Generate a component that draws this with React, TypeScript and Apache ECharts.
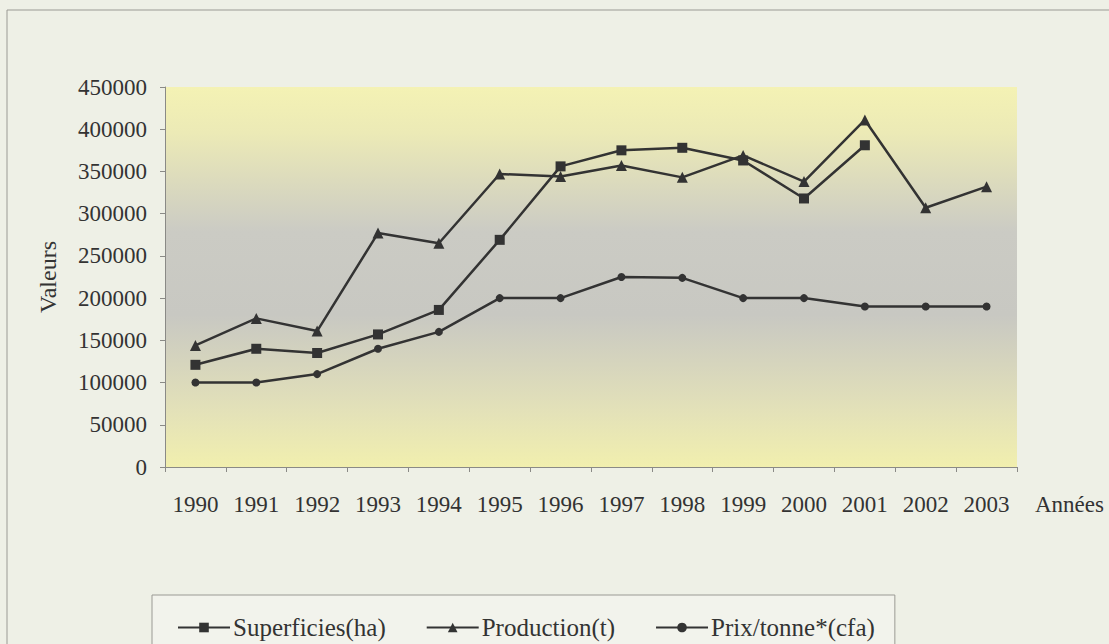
import React, { useEffect, useRef } from "react";
import * as echarts from "echarts";

const years = ["1990", "1991", "1992", "1993", "1994", "1995", "1996", "1997", "1998", "1999", "2000", "2001", "2002", "2003"];
const superficies = [121000, 140000, 135000, 157000, 186000, 269000, 356000, 375000, 378000, 363000, 318000, 381000, null, null];
const production = [144000, 176000, 161000, 277000, 265000, 347000, 344000, 357000, 343000, 369000, 338000, 411000, 307000, 332000];
const prix = [100000, 100000, 110000, 140000, 160000, 200000, 200000, 225000, 224000, 200000, 200000, 190000, 190000, 190000];

const FONT = "Liberation Serif";
const INK = "#333333";

export default function App() {
  const ref = useRef<HTMLDivElement>(null);
  useEffect(() => {
    if (!ref.current) return;
    const chart = echarts.init(ref.current, null, { renderer: "svg" });
    const lineSeries = (name: string, data: (number | null)[], symbol: string, size: number) => ({
      name,
      type: "line",
      data,
      symbol,
      symbolSize: size,
      showAllSymbol: true,
      lineStyle: { color: INK, width: 2.5 },
      itemStyle: { color: INK, borderWidth: 0 },
      connectNulls: false,
    });
    chart.setOption({
      animation: false,
      backgroundColor: "#eef0e6",
      textStyle: { fontFamily: FONT },
      graphic: [
        {
          type: "rect",
          shape: { x: 7, y: 10, width: 1200, height: 700 },
          style: { fill: "none", stroke: "#9a9a94", lineWidth: 1 },
          silent: true,
        },
      ],
      grid: {
        left: 165,
        right: 92,
        top: 87,
        bottom: 177,
        show: true,
        borderWidth: 0,
        backgroundColor: {
          type: "linear",
          x: 0,
          y: 0,
          x2: 0,
          y2: 1,
          colorStops: [
            { offset: 0, color: "#f4f2b4" },
            { offset: 0.12, color: "#eceab6" },
            { offset: 0.38, color: "#cbcbc4" },
            { offset: 0.6, color: "#c8c8c2" },
            { offset: 0.86, color: "#e4e2b8" },
            { offset: 1, color: "#f1efae" },
          ],
        },
      },
      legend: {
        left: 152,
        top: 595,
        width: 751,
        padding: [20, 20, 40, 25],
        borderColor: "#9a9a94",
        borderWidth: 1,
        backgroundColor: "#f2f3ec",
        itemWidth: 52,
        itemHeight: 12,
        itemGap: 40,
        textStyle: { fontFamily: FONT, fontSize: 25, color: INK, padding: [0, 0, 0, -2] },
        data: ["Superficies(ha)", "Production(t)", "Prix/tonne*(cfa)"],
      },
      xAxis: {
        type: "category",
        data: years,
        boundaryGap: true,
        name: "Années",
        nameLocation: "end",
        nameGap: 18,
        nameTextStyle: { fontFamily: FONT, fontSize: 23, color: INK, verticalAlign: "top", padding: [26, 0, 0, 0] },
        axisLine: { lineStyle: { color: "#8a8a86", width: 1 } },
        axisTick: { show: true, alignWithLabel: false, length: 5, lineStyle: { color: "#8a8a86" } },
        axisLabel: { fontFamily: FONT, fontSize: 23, color: INK, margin: 26, interval: 0 },
        splitLine: { show: false },
      },
      yAxis: {
        type: "value",
        min: 0,
        max: 450000,
        interval: 50000,
        name: "Valeurs",
        nameLocation: "middle",
        nameGap: 105,
        nameRotate: 90,
        nameTextStyle: { fontFamily: FONT, fontSize: 24, color: INK },
        axisLine: { show: true, lineStyle: { color: "#8a8a86", width: 1 } },
        axisTick: { show: true, length: 5, lineStyle: { color: "#8a8a86" } },
        axisLabel: {
          fontFamily: FONT,
          fontSize: 23,
          color: INK,
          margin: 18,
          formatter: (v: number) => String(v),
        },
        splitLine: { show: false },
      },
      series: [
        lineSeries("Superficies(ha)", superficies, "rect", 10),
        lineSeries("Production(t)", production, "triangle", 11),
        lineSeries("Prix/tonne*(cfa)", prix, "circle", 8),
      ],
    });
    return () => chart.dispose();
  }, []);
  return (
    <div
      ref={ref}
      style={{ position: "absolute", left: 0, top: 0, width: 1109, height: 644, background: "#eef0e6" }}
    />
  );
}
